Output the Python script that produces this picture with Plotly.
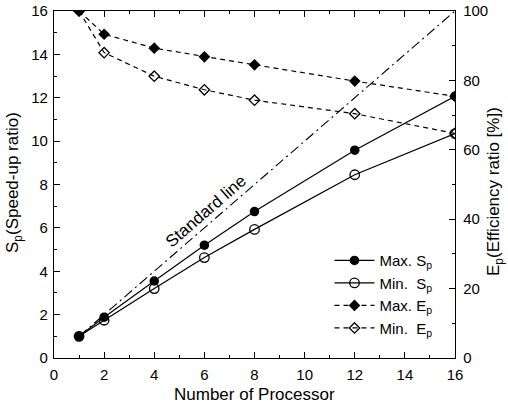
import plotly.graph_objects as go

processors = [1, 2, 4, 6, 8, 12, 16]
max_sp = [1, 1.88, 3.55, 5.2, 6.75, 9.58, 12.07]
min_sp = [1, 1.74, 3.2, 4.63, 5.93, 8.45, 10.35]
max_ep = [100, 93.3, 89.3, 86.8, 84.5, 79.8, 75.4]
min_ep = [100, 88.0, 81.2, 77.3, 74.3, 70.4, 64.7]
standard_x = [1, 16]
standard_y = [1, 16]

FONT = "Liberation Sans, Arial, sans-serif"
W, H = 508, 405
ML, MT = 54, 11
MR = W - 455
MB = H - 358

fig = go.Figure()

fig.add_trace(go.Scatter(x=standard_x, y=standard_y, mode="lines",
                         line=dict(color="black", width=1.1, dash="10px,4px,2px,4px"),
                         showlegend=False, hoverinfo="skip"))
fig.add_trace(go.Scatter(x=processors, y=max_sp, mode="lines+markers", name="Max. S<sub>p</sub>",
                         line=dict(color="black", width=1.2),
                         marker=dict(symbol="circle", size=9.5, color="black")))
fig.add_trace(go.Scatter(x=processors, y=min_sp, mode="lines+markers", name="Min.&nbsp; S<sub>p</sub>",
                         line=dict(color="black", width=1.2),
                         marker=dict(symbol="circle-open", size=9.5, color="black", line=dict(width=1.3))))
fig.add_trace(go.Scatter(x=processors, y=max_ep, mode="lines+markers", name="Max. E<sub>p</sub>",
                         yaxis="y2",
                         line=dict(color="black", width=1.2, dash="5px,4px"),
                         marker=dict(symbol="diamond", size=9, color="black")))
fig.add_trace(go.Scatter(x=processors, y=min_ep, mode="lines+markers", name="Min.&nbsp; E<sub>p</sub>",
                         yaxis="y2",
                         line=dict(color="black", width=1.2, dash="5px,4px"),
                         marker=dict(symbol="diamond-open", size=8, color="black", line=dict(width=1.3))))

fig.add_annotation(x=6.05, y=6.75, xref="x", yref="y", text="Standard line", showarrow=False,
                   textangle=-41, font=dict(family=FONT, size=17, color="black"))

def px_x(p):
    return (p - ML) / (W - ML - MR)

def px_y(p):
    return (H - MB - p) / (H - MT - MB)

title_font = dict(family=FONT, size=17, color="black")
fig.add_annotation(x=px_x(254), y=px_y(394), xref="paper", yref="paper", text="Number of Processor",
                   showarrow=False, font=title_font, xanchor="center", yanchor="middle")
fig.add_annotation(x=px_x(14), y=px_y(183), xref="paper", yref="paper", text="S<sub>p</sub>(Speed-up ratio)",
                   showarrow=False, font=title_font, textangle=-90, xanchor="center", yanchor="middle")
fig.add_annotation(x=px_x(495), y=px_y(192), xref="paper", yref="paper", text="E<sub>p</sub>(Efficiency ratio [%])",
                   showarrow=False, font=title_font, textangle=-90, xanchor="center", yanchor="middle")

axis_common = dict(showline=True, linecolor="black", linewidth=1.3, ticks="inside",
                   ticklen=6, tickwidth=1.2, tickcolor="black", showgrid=False, zeroline=False,
                   automargin=False,
                   tickfont=dict(family=FONT, size=15, color="black"))

fig.update_layout(
    width=W, height=H,
    margin=dict(l=ML, r=MR, t=MT, b=MB),
    paper_bgcolor="white", plot_bgcolor="white",
    font=dict(family=FONT, size=15, color="black"),
    xaxis=dict(range=[0, 16], dtick=2, mirror="ticks", ticklabelstandoff=3,
               minor=dict(dtick=1, ticklen=3, ticks="inside", tickcolor="black", tickwidth=1.2),
               **axis_common),
    yaxis=dict(range=[0, 16], dtick=2, ticklabelstandoff=2,
               minor=dict(dtick=1, ticklen=3, ticks="inside", tickcolor="black", tickwidth=1.2),
               **axis_common),
    yaxis2=dict(range=[0, 100], dtick=20, overlaying="y", side="right", ticklabelstandoff=4,
                minor=dict(dtick=10, ticklen=3, ticks="inside", tickcolor="black", tickwidth=1.2),
                **axis_common),
    legend=dict(x=0.687, y=0.328, xanchor="left", yanchor="top", bgcolor="rgba(0,0,0,0)",
                font=dict(family=FONT, size=15, color="black"), tracegroupgap=0, itemwidth=40),
    showlegend=True,
)

fig.write_html("out.html", config={"displayModeBar": False},
               post_script="document.body.style.margin='0';document.body.style.overflow='hidden';")
